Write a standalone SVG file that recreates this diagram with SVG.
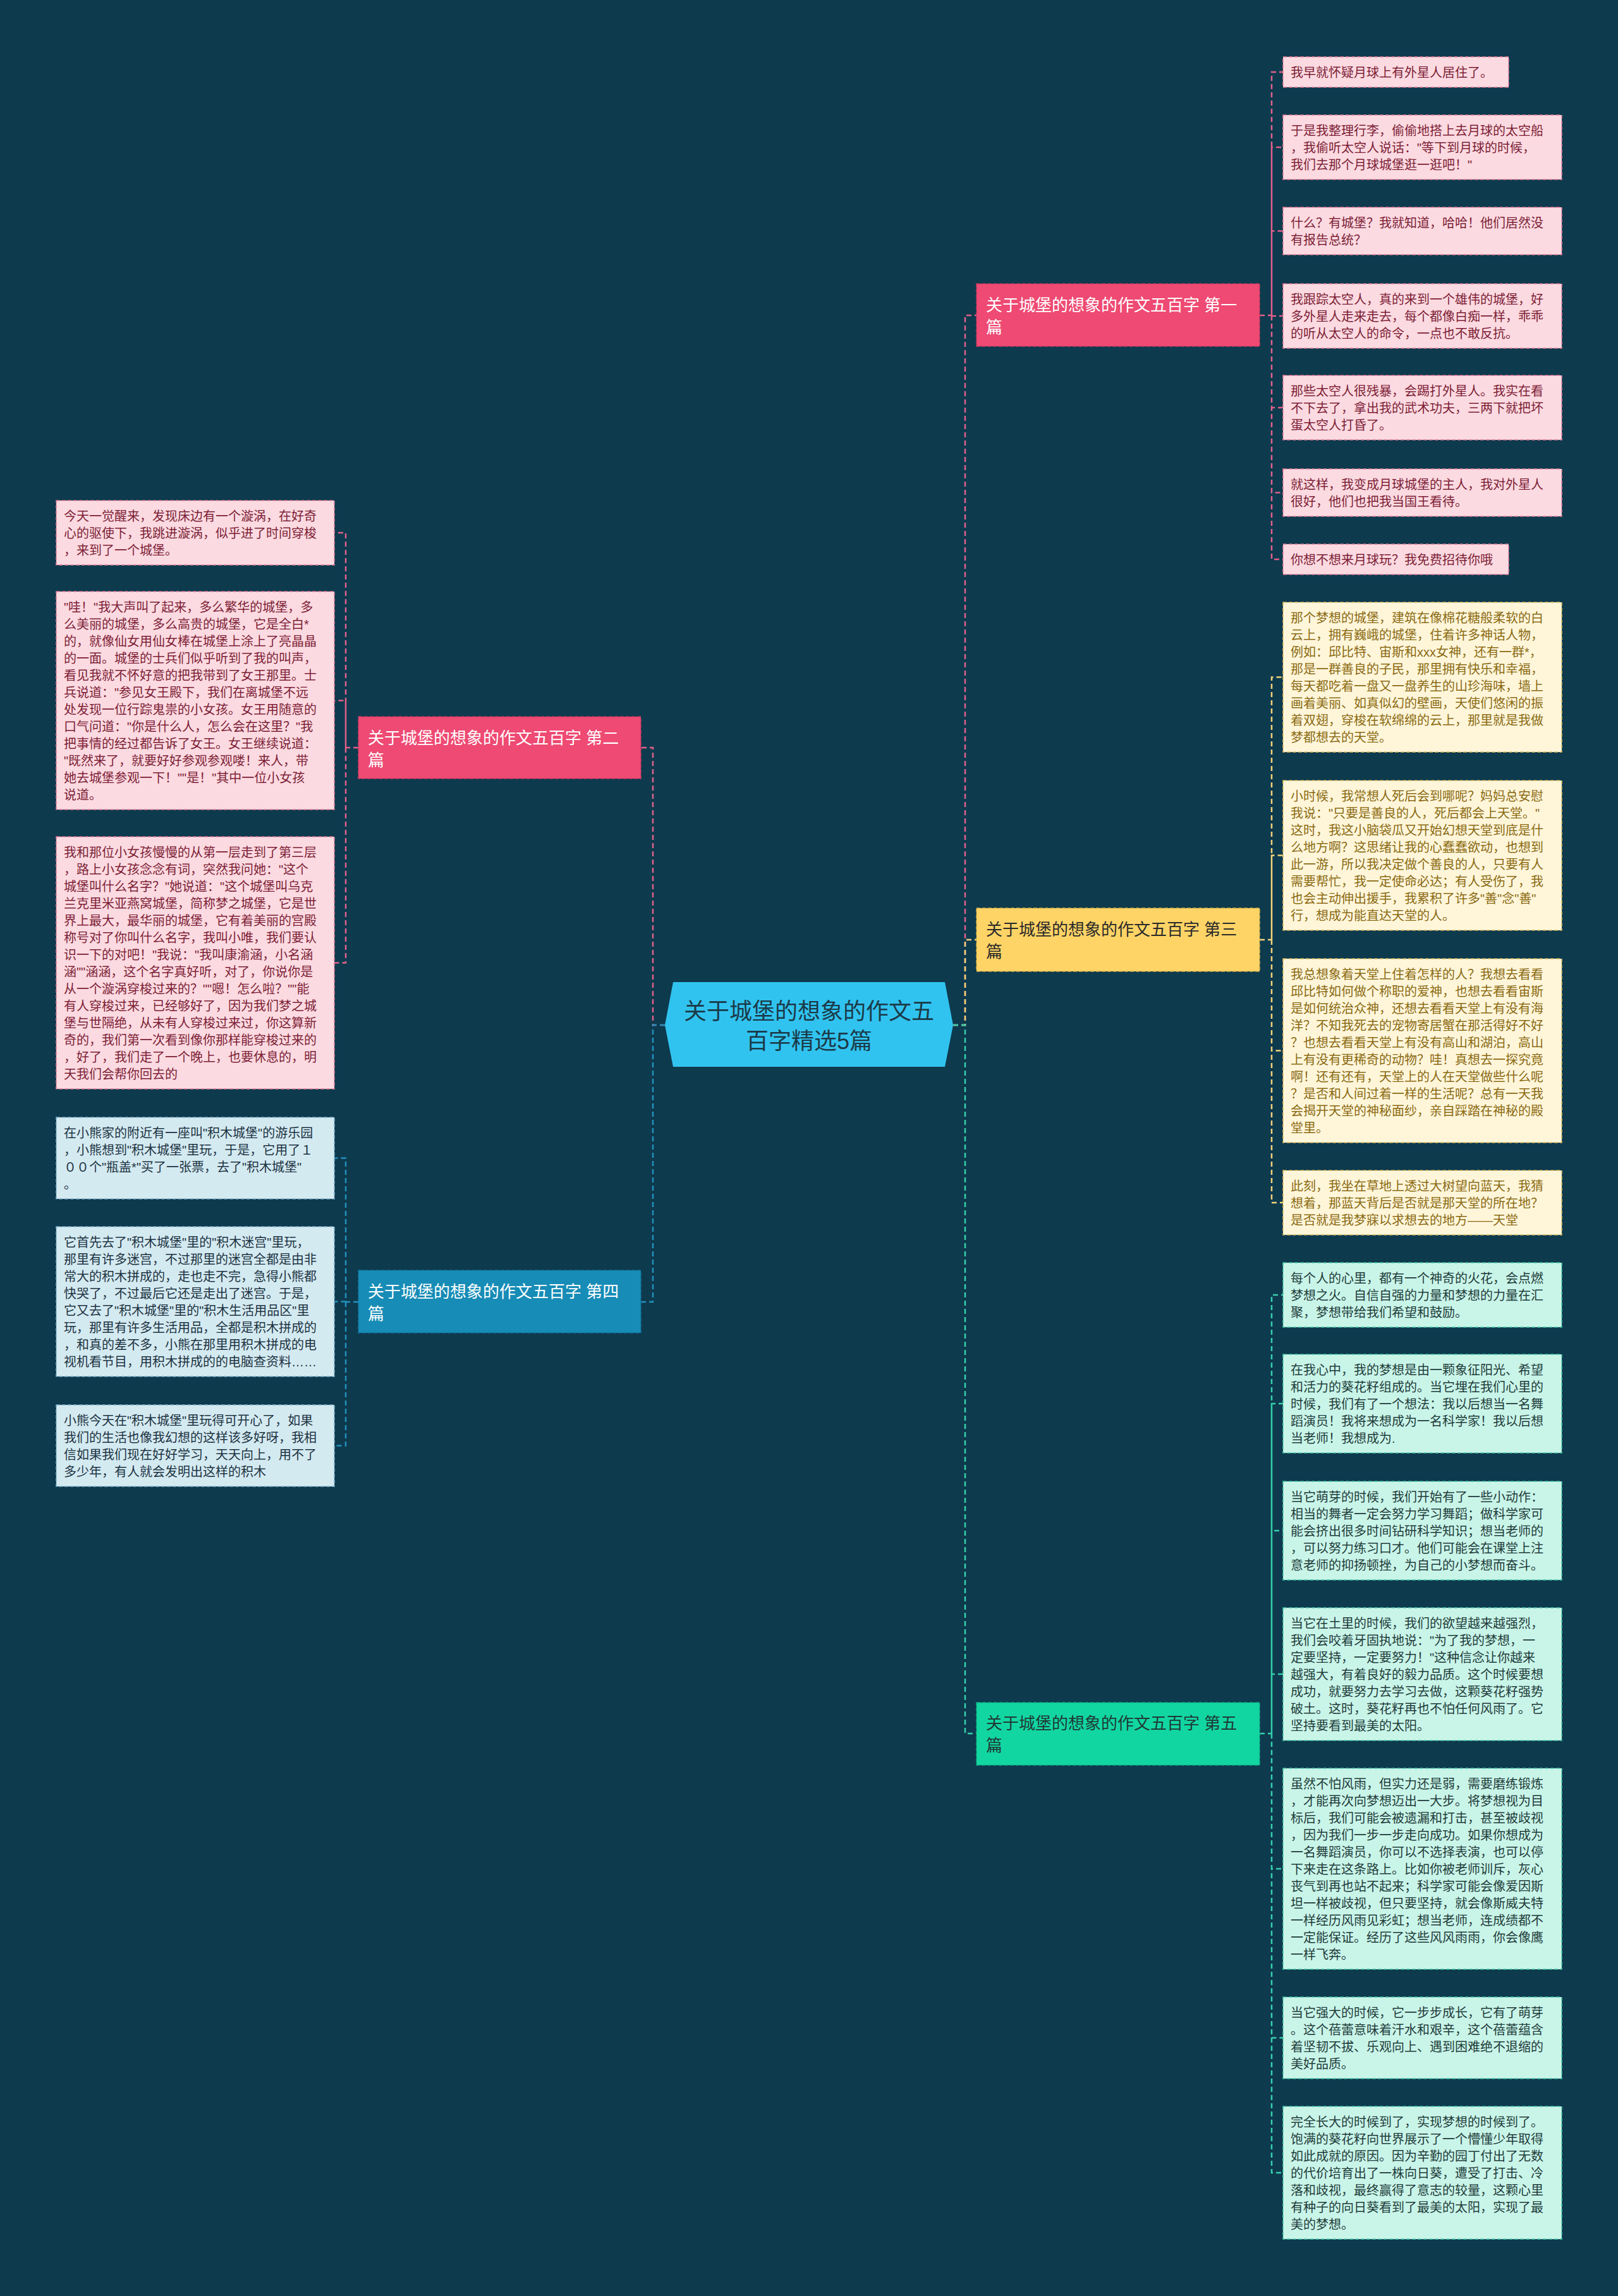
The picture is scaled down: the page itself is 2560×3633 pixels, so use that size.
<svg xmlns="http://www.w3.org/2000/svg" width="2560" height="3633" viewBox="0 0 2560 3633">
<style>
text{font-family:"Liberation Sans","Noto Sans CJK SC",sans-serif}
.leaf{font-size:20px}
.node{font-size:26px}
.c{fill:none;stroke-width:2.5;stroke-dasharray:8 5}
.pk{stroke:#e0608a}.yl{stroke:#f2d37a}.tl{stroke:#35cfab}.bl{stroke:#2390bd}
.lp rect{fill:#fcdae1;stroke:#e27d98;stroke-width:1.5;stroke-dasharray:6 3}.lp text{fill:#7c1e36}
.ly rect{fill:#fff6da;stroke:#d9b95c;stroke-width:1.5;stroke-dasharray:6 3}.ly text{fill:#8a6a12}
.lt rect{fill:#c9f5e9;stroke:#45c6a6;stroke-width:1.5;stroke-dasharray:6 3}.lt text{fill:#1f3c3a}
.lb rect{fill:#d4eaf1;stroke:#7fb4cb;stroke-width:1.5;stroke-dasharray:6 3}.lb text{fill:#1c3342}
</style>
<rect width="2560" height="3633" fill="#0e3a4e"/>
<g id="connectors">
<path class="c pk" d="M1508 1622H1527V499H1545"/>
<path class="c yl" d="M1508 1622H1527V1487H1545"/>
<path class="c tl" d="M1508 1622H1527V2743H1545"/>
<path class="c pk" d="M1052 1622H1033V1183H1014"/>
<path class="c bl" d="M1052 1622H1033V2060H1014"/>
<path class="c pk" d="M1993 499H2012V114H2030M2012 499V233H2030M2012 499V365.5H2030M2012 499V500H2030M2012 499V645H2030M2012 499V779.5H2030M2012 499V885H2030"/>
<path class="c yl" d="M1993 1487H2012V1071.5H2030M2012 1487V1353.5H2030M2012 1487V1662.5H2030M2012 1487V1903H2030"/>
<path class="c tl" d="M1993 2743H2012V2049H2030M2012 2743V2221H2030M2012 2743V2422H2030M2012 2743V2649H2030M2012 2743V2957H2030M2012 2743V3224.5H2030M2012 2743V3438H2030"/>
<path class="c pk" d="M567 1183H547V843H529M547 1183V1108.5H529M547 1183V1523.5H529"/>
<path class="c bl" d="M567 2060H547V1832.5H529M547 2060V2059.5H529M547 2060V2287.5H529"/>
</g>
<g id="center">
<polygon points="1052,1622 1065,1554 1495,1554 1508,1622 1495,1688 1065,1688" fill="#31c3f0"/>
<text x="1280" y="1613" text-anchor="middle" font-size="36" fill="#1b3a48">关于城堡的想象的作文五</text>
<text x="1280" y="1660" text-anchor="middle" font-size="36" fill="#1b3a48">百字精选5篇</text>
</g>
<g id="branch1" class="node">
<rect x="1545" y="449" width="448" height="99" fill="#ee4a73" stroke="#c93a61" stroke-width="1.5" stroke-dasharray="6 3"/>
<text x="1560" y="492" fill="#ffffff">关于城堡的想象的作文五百字 第一</text>
<text x="1560" y="527" fill="#ffffff">篇</text>
</g>
<g id="branch3" class="node">
<rect x="1545" y="1437" width="448" height="100" fill="#fed466" stroke="#d9b24a" stroke-width="1.5" stroke-dasharray="6 3"/>
<text x="1560" y="1480" fill="#2a2a2a">关于城堡的想象的作文五百字 第三</text>
<text x="1560" y="1515" fill="#2a2a2a">篇</text>
</g>
<g id="branch5" class="node">
<rect x="1545" y="2694" width="448" height="99" fill="#12d6a2" stroke="#0fae85" stroke-width="1.5" stroke-dasharray="6 3"/>
<text x="1560" y="2736" fill="#1f3a35">关于城堡的想象的作文五百字 第五</text>
<text x="1560" y="2771" fill="#1f3a35">篇</text>
</g>
<g id="branch2" class="node">
<rect x="567" y="1134" width="447" height="98" fill="#ee4a73" stroke="#c93a61" stroke-width="1.5" stroke-dasharray="6 3"/>
<text x="582" y="1177" fill="#ffffff">关于城堡的想象的作文五百字 第二</text>
<text x="582" y="1212" fill="#ffffff">篇</text>
</g>
<g id="branch4" class="node">
<rect x="567" y="2010" width="447" height="99" fill="#178cb6" stroke="#12739a" stroke-width="1.5" stroke-dasharray="6 3"/>
<text x="582" y="2053" fill="#ffffff">关于城堡的想象的作文五百字 第四</text>
<text x="582" y="2088" fill="#ffffff">篇</text>
</g>
<g id="b1-l1" class="leaf lp"><rect x="2030" y="90" width="357" height="48"/><text x="2042" y="121.5">我早就怀疑月球上有外星人居住了。</text></g>
<g id="b1-l2" class="leaf lp"><rect x="2030" y="182" width="441" height="102"/><text x="2042" y="213.5"><tspan x="2042">于是我整理行李，偷偷地搭上去月球的太空船</tspan><tspan x="2042" dy="27">，我偷听太空人说话："等下到月球的时候，</tspan><tspan x="2042" dy="27">我们去那个月球城堡逛一逛吧！"</tspan></text></g>
<g id="b1-l3" class="leaf lp"><rect x="2030" y="328" width="441" height="75"/><text x="2042" y="359.5"><tspan x="2042">什么？有城堡？我就知道，哈哈！他们居然没</tspan><tspan x="2042" dy="27">有报告总统？</tspan></text></g>
<g id="b1-l4" class="leaf lp"><rect x="2030" y="449" width="441" height="102"/><text x="2042" y="480.5"><tspan x="2042">我跟踪太空人，真的来到一个雄伟的城堡，好</tspan><tspan x="2042" dy="27">多外星人走来走去，每个都像白痴一样，乖乖</tspan><tspan x="2042" dy="27">的听从太空人的命令，一点也不敢反抗。</tspan></text></g>
<g id="b1-l5" class="leaf lp"><rect x="2030" y="594" width="441" height="102"/><text x="2042" y="625.5"><tspan x="2042">那些太空人很残暴，会踢打外星人。我实在看</tspan><tspan x="2042" dy="27">不下去了，拿出我的武术功夫，三两下就把坏</tspan><tspan x="2042" dy="27">蛋太空人打昏了。</tspan></text></g>
<g id="b1-l6" class="leaf lp"><rect x="2030" y="742" width="441" height="75"/><text x="2042" y="773.5"><tspan x="2042">就这样，我变成月球城堡的主人，我对外星人</tspan><tspan x="2042" dy="27">很好，他们也把我当国王看待。</tspan></text></g>
<g id="b1-l7" class="leaf lp"><rect x="2030" y="861" width="357" height="48"/><text x="2042" y="892.5">你想不想来月球玩？我免费招待你哦</text></g>
<g id="b3-l1" class="leaf ly"><rect x="2030" y="953" width="441" height="237"/><text x="2042" y="984.5"><tspan x="2042">那个梦想的城堡，建筑在像棉花糖般柔软的白</tspan><tspan x="2042" dy="27">云上，拥有巍峨的城堡，住着许多神话人物，</tspan><tspan x="2042" dy="27">例如：邱比特、宙斯和xxx女神，还有一群*，</tspan><tspan x="2042" dy="27">那是一群善良的子民，那里拥有快乐和幸福，</tspan><tspan x="2042" dy="27">每天都吃着一盘又一盘养生的山珍海味，墙上</tspan><tspan x="2042" dy="27">画着美丽、如真似幻的壁画，天使们悠闲的振</tspan><tspan x="2042" dy="27">着双翅，穿梭在软绵绵的云上，那里就是我做</tspan><tspan x="2042" dy="27">梦都想去的天堂。</tspan></text></g>
<g id="b3-l2" class="leaf ly"><rect x="2030" y="1235" width="441" height="237"/><text x="2042" y="1266.5"><tspan x="2042">小时候，我常想人死后会到哪呢？妈妈总安慰</tspan><tspan x="2042" dy="27">我说："只要是善良的人，死后都会上天堂。"</tspan><tspan x="2042" dy="27">这时，我这小脑袋瓜又开始幻想天堂到底是什</tspan><tspan x="2042" dy="27">么地方啊？这思绪让我的心蠢蠢欲动，也想到</tspan><tspan x="2042" dy="27">此一游，所以我决定做个善良的人，只要有人</tspan><tspan x="2042" dy="27">需要帮忙，我一定使命必达；有人受伤了，我</tspan><tspan x="2042" dy="27">也会主动伸出援手，我累积了许多"善"念"善"</tspan><tspan x="2042" dy="27">行，想成为能直达天堂的人。</tspan></text></g>
<g id="b3-l3" class="leaf ly"><rect x="2030" y="1517" width="441" height="291"/><text x="2042" y="1548.5"><tspan x="2042">我总想象着天堂上住着怎样的人？我想去看看</tspan><tspan x="2042" dy="27">邱比特如何做个称职的爱神，也想去看看宙斯</tspan><tspan x="2042" dy="27">是如何统治众神，还想去看看天堂上有没有海</tspan><tspan x="2042" dy="27">洋？不知我死去的宠物寄居蟹在那活得好不好</tspan><tspan x="2042" dy="27">？也想去看看天堂上有没有高山和湖泊，高山</tspan><tspan x="2042" dy="27">上有没有更稀奇的动物？哇！真想去一探究竟</tspan><tspan x="2042" dy="27">啊！还有还有，天堂上的人在天堂做些什么呢</tspan><tspan x="2042" dy="27">？是否和人间过着一样的生活呢？总有一天我</tspan><tspan x="2042" dy="27">会揭开天堂的神秘面纱，亲自踩踏在神秘的殿</tspan><tspan x="2042" dy="27">堂里。</tspan></text></g>
<g id="b3-l4" class="leaf ly"><rect x="2030" y="1852" width="441" height="102"/><text x="2042" y="1883.5"><tspan x="2042">此刻，我坐在草地上透过大树望向蓝天，我猜</tspan><tspan x="2042" dy="27">想着，那蓝天背后是否就是那天堂的所在地？</tspan><tspan x="2042" dy="27">是否就是我梦寐以求想去的地方——天堂</tspan></text></g>
<g id="b5-l1" class="leaf lt"><rect x="2030" y="1998" width="441" height="102"/><text x="2042" y="2029.5"><tspan x="2042">每个人的心里，都有一个神奇的火花，会点燃</tspan><tspan x="2042" dy="27">梦想之火。自信自强的力量和梦想的力量在汇</tspan><tspan x="2042" dy="27">聚，梦想带给我们希望和鼓励。</tspan></text></g>
<g id="b5-l2" class="leaf lt"><rect x="2030" y="2143" width="441" height="156"/><text x="2042" y="2174.5"><tspan x="2042">在我心中，我的梦想是由一颗象征阳光、希望</tspan><tspan x="2042" dy="27">和活力的葵花籽组成的。当它埋在我们心里的</tspan><tspan x="2042" dy="27">时候，我们有了一个想法：我以后想当一名舞</tspan><tspan x="2042" dy="27">蹈演员！我将来想成为一名科学家！我以后想</tspan><tspan x="2042" dy="27">当老师！我想成为.</tspan></text></g>
<g id="b5-l3" class="leaf lt"><rect x="2030" y="2344" width="441" height="156"/><text x="2042" y="2375.5"><tspan x="2042">当它萌芽的时候，我们开始有了一些小动作：</tspan><tspan x="2042" dy="27">相当的舞者一定会努力学习舞蹈；做科学家可</tspan><tspan x="2042" dy="27">能会挤出很多时间钻研科学知识；想当老师的</tspan><tspan x="2042" dy="27">，可以努力练习口才。他们可能会在课堂上注</tspan><tspan x="2042" dy="27">意老师的抑扬顿挫，为自己的小梦想而奋斗。</tspan></text></g>
<g id="b5-l4" class="leaf lt"><rect x="2030" y="2544" width="441" height="210"/><text x="2042" y="2575.5"><tspan x="2042">当它在土里的时候，我们的欲望越来越强烈，</tspan><tspan x="2042" dy="27">我们会咬着牙固执地说："为了我的梦想，一</tspan><tspan x="2042" dy="27">定要坚持，一定要努力！"这种信念让你越来</tspan><tspan x="2042" dy="27">越强大，有着良好的毅力品质。这个时候要想</tspan><tspan x="2042" dy="27">成功，就要努力去学习去做，这颗葵花籽强势</tspan><tspan x="2042" dy="27">破土。这时，葵花籽再也不怕任何风雨了。它</tspan><tspan x="2042" dy="27">坚持要看到最美的太阳。</tspan></text></g>
<g id="b5-l5" class="leaf lt"><rect x="2030" y="2798" width="441" height="318"/><text x="2042" y="2829.5"><tspan x="2042">虽然不怕风雨，但实力还是弱，需要磨练锻炼</tspan><tspan x="2042" dy="27">，才能再次向梦想迈出一大步。将梦想视为目</tspan><tspan x="2042" dy="27">标后，我们可能会被遗漏和打击，甚至被歧视</tspan><tspan x="2042" dy="27">，因为我们一步一步走向成功。如果你想成为</tspan><tspan x="2042" dy="27">一名舞蹈演员，你可以不选择表演，也可以停</tspan><tspan x="2042" dy="27">下来走在这条路上。比如你被老师训斥，灰心</tspan><tspan x="2042" dy="27">丧气到再也站不起来；科学家可能会像爱因斯</tspan><tspan x="2042" dy="27">坦一样被歧视，但只要坚持，就会像斯威夫特</tspan><tspan x="2042" dy="27">一样经历风雨见彩虹；想当老师，连成绩都不</tspan><tspan x="2042" dy="27">一定能保证。经历了这些风风雨雨，你会像鹰</tspan><tspan x="2042" dy="27">一样飞奔。</tspan></text></g>
<g id="b5-l6" class="leaf lt"><rect x="2030" y="3160" width="441" height="129"/><text x="2042" y="3191.5"><tspan x="2042">当它强大的时候，它一步步成长，它有了萌芽</tspan><tspan x="2042" dy="27">。这个蓓蕾意味着汗水和艰辛，这个蓓蕾蕴含</tspan><tspan x="2042" dy="27">着坚韧不拔、乐观向上、遇到困难绝不退缩的</tspan><tspan x="2042" dy="27">美好品质。</tspan></text></g>
<g id="b5-l7" class="leaf lt"><rect x="2030" y="3333" width="441" height="210"/><text x="2042" y="3364.5"><tspan x="2042">完全长大的时候到了，实现梦想的时候到了。</tspan><tspan x="2042" dy="27">饱满的葵花籽向世界展示了一个懵懂少年取得</tspan><tspan x="2042" dy="27">如此成就的原因。因为辛勤的园丁付出了无数</tspan><tspan x="2042" dy="27">的代价培育出了一株向日葵，遭受了打击、冷</tspan><tspan x="2042" dy="27">落和歧视，最终赢得了意志的较量，这颗心里</tspan><tspan x="2042" dy="27">有种子的向日葵看到了最美的太阳，实现了最</tspan><tspan x="2042" dy="27">美的梦想。</tspan></text></g>
<g id="b2-l1" class="leaf lp"><rect x="89" y="792" width="440" height="102"/><text x="101" y="823.5"><tspan x="101">今天一觉醒来，发现床边有一个漩涡，在好奇</tspan><tspan x="101" dy="27">心的驱使下，我跳进漩涡，似乎进了时间穿梭</tspan><tspan x="101" dy="27">，来到了一个城堡。</tspan></text></g>
<g id="b2-l2" class="leaf lp"><rect x="89" y="936" width="440" height="345"/><text x="101" y="967.5"><tspan x="101">"哇！"我大声叫了起来，多么繁华的城堡，多</tspan><tspan x="101" dy="27">么美丽的城堡，多么高贵的城堡，它是全白*</tspan><tspan x="101" dy="27">的，就像仙女用仙女棒在城堡上涂上了亮晶晶</tspan><tspan x="101" dy="27">的一面。城堡的士兵们似乎听到了我的叫声，</tspan><tspan x="101" dy="27">看见我就不怀好意的把我带到了女王那里。士</tspan><tspan x="101" dy="27">兵说道："参见女王殿下，我们在离城堡不远</tspan><tspan x="101" dy="27">处发现一位行踪鬼祟的小女孩。女王用随意的</tspan><tspan x="101" dy="27">口气问道："你是什么人，怎么会在这里？"我</tspan><tspan x="101" dy="27">把事情的经过都告诉了女王。女王继续说道：</tspan><tspan x="101" dy="27">"既然来了，就要好好参观参观喽！来人，带</tspan><tspan x="101" dy="27">她去城堡参观一下！""是！"其中一位小女孩</tspan><tspan x="101" dy="27">说道。</tspan></text></g>
<g id="b2-l3" class="leaf lp"><rect x="89" y="1324" width="440" height="399"/><text x="101" y="1355.5"><tspan x="101">我和那位小女孩慢慢的从第一层走到了第三层</tspan><tspan x="101" dy="27">，路上小女孩念念有词，突然我问她："这个</tspan><tspan x="101" dy="27">城堡叫什么名字？"她说道："这个城堡叫乌克</tspan><tspan x="101" dy="27">兰克里米亚燕窝城堡，简称梦之城堡，它是世</tspan><tspan x="101" dy="27">界上最大，最华丽的城堡，它有着美丽的宫殿</tspan><tspan x="101" dy="27">称号对了你叫什么名字，我叫小唯，我们要认</tspan><tspan x="101" dy="27">识一下的对吧！"我说："我叫康渝涵，小名涵</tspan><tspan x="101" dy="27">涵""涵涵，这个名字真好听，对了，你说你是</tspan><tspan x="101" dy="27">从一个漩涡穿梭过来的？""嗯！怎么啦？""能</tspan><tspan x="101" dy="27">有人穿梭过来，已经够好了，因为我们梦之城</tspan><tspan x="101" dy="27">堡与世隔绝，从未有人穿梭过来过，你这算新</tspan><tspan x="101" dy="27">奇的，我们第一次看到像你那样能穿梭过来的</tspan><tspan x="101" dy="27">，好了，我们走了一个晚上，也要休息的，明</tspan><tspan x="101" dy="27">天我们会帮你回去的</tspan></text></g>
<g id="b4-l1" class="leaf lb"><rect x="89" y="1768" width="440" height="129"/><text x="101" y="1799.5"><tspan x="101">在小熊家的附近有一座叫"积木城堡"的游乐园</tspan><tspan x="101" dy="27">，小熊想到"积木城堡"里玩，于是，它用了１</tspan><tspan x="101" dy="27">００个"瓶盖*"买了一张票，去了"积木城堡"</tspan><tspan x="101" dy="27">。</tspan></text></g>
<g id="b4-l2" class="leaf lb"><rect x="89" y="1941" width="440" height="237"/><text x="101" y="1972.5"><tspan x="101">它首先去了"积木城堡"里的"积木迷宫"里玩，</tspan><tspan x="101" dy="27">那里有许多迷宫，不过那里的迷宫全都是由非</tspan><tspan x="101" dy="27">常大的积木拼成的，走也走不完，急得小熊都</tspan><tspan x="101" dy="27">快哭了，不过最后它还是走出了迷宫。于是，</tspan><tspan x="101" dy="27">它又去了"积木城堡"里的"积木生活用品区"里</tspan><tspan x="101" dy="27">玩，那里有许多生活用品，全都是积木拼成的</tspan><tspan x="101" dy="27">，和真的差不多，小熊在那里用积木拼成的电</tspan><tspan x="101" dy="27">视机看节目，用积木拼成的的电脑查资料……</tspan></text></g>
<g id="b4-l3" class="leaf lb"><rect x="89" y="2223" width="440" height="129"/><text x="101" y="2254.5"><tspan x="101">小熊今天在"积木城堡"里玩得可开心了，如果</tspan><tspan x="101" dy="27">我们的生活也像我幻想的这样该多好呀，我相</tspan><tspan x="101" dy="27">信如果我们现在好好学习，天天向上，用不了</tspan><tspan x="101" dy="27">多少年，有人就会发明出这样的积木</tspan></text></g>
</svg>
